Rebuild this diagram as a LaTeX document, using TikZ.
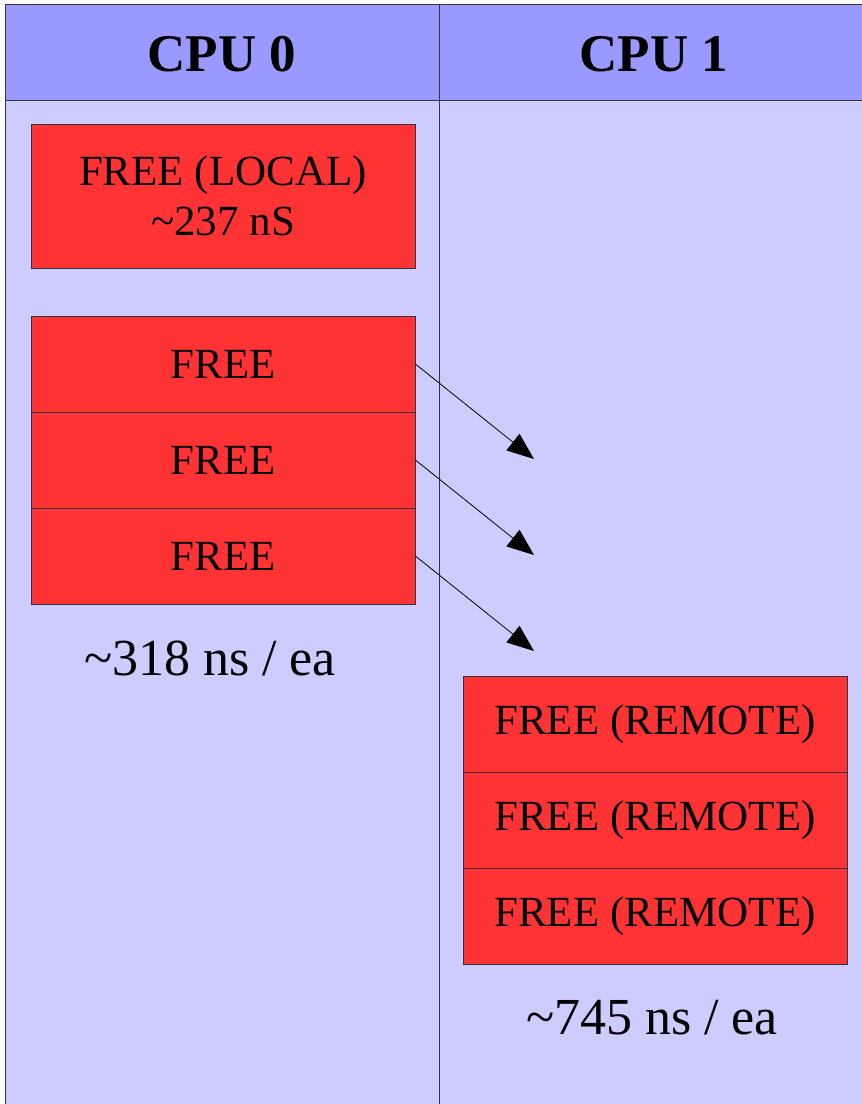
\documentclass[tikz,border=0pt]{standalone}
\usepackage{fontspec}
\setmainfont{Liberation Serif}
\usetikzlibrary{arrows.meta}
\definecolor{headblue}{HTML}{9999FF}
\definecolor{bodyblue}{HTML}{CCCCFF}
\definecolor{freered}{HTML}{FF3333}
\definecolor{rule}{HTML}{333344}
\tikzset{
  cell/.style={draw=rule, line width=0.8pt, fill=freered, minimum width=384pt,
    minimum height=96pt, inner sep=0pt, align=center,
    font=\fontsize{43}{50}\selectfont},
  headtext/.style={font=\fontsize{53}{58}\selectfont\bfseries},
  note/.style={font=\fontsize{52}{58}\selectfont},
  move/.style={line width=0.8pt, -{Triangle[length=27pt,width=21pt]}}
}
\begin{document}
\begin{tikzpicture}[x=1pt,y=-1pt]
  \useasboundingbox (0,0) rectangle (862,1104);
  \fill[white] (0,0) rectangle (862,1104);
  % column backgrounds
  \fill[bodyblue] (5,4) rectangle (862,1104);
  \fill[headblue] (5,4) rectangle (862,100);
  \draw[rule, line width=1pt] (862,4) -- (5,4) -- (5,1104);
  \draw[rule, line width=1pt] (5,100) -- (862,100);
  \draw[rule, line width=1pt] (439,4) -- (439,1104);
  % headings
  \node[headtext] (h0) at (222,54) {CPU 0};
  \node[headtext] (h1) at (654,54) {CPU 1};
  % CPU 0: local free
  \node[cell, minimum height=144pt] (local) at (223,196) {FREE (LOCAL)\\\textasciitilde237 nS};
  % CPU 0: frees handed to the other CPU
  \node[cell] (f1) at (223,364) {FREE};
  \node[cell] (f2) at (223,460) {FREE};
  \node[cell] (f3) at (223,556) {FREE};
  \node[note] (n0) at (210,658) {\textasciitilde318 ns / ea};
  % arrow targets
  \coordinate (t1) at (534,459);
  \coordinate (t2) at (534,555);
  \coordinate (t3) at (534,651);
  \draw[move] (f1.east) -- (t1);
  \draw[move] (f2.east) -- (t2);
  \draw[move] (f3.east) -- (t3);
  % CPU 1: remote frees
  \node[cell] (r1) at (655,724) {FREE (REMOTE)};
  \node[cell] (r2) at (655,820) {FREE (REMOTE)};
  \node[cell] (r3) at (655,916) {FREE (REMOTE)};
  \node[note] (n1) at (652,1018) {\textasciitilde745 ns / ea};
\end{tikzpicture}
\end{document}
